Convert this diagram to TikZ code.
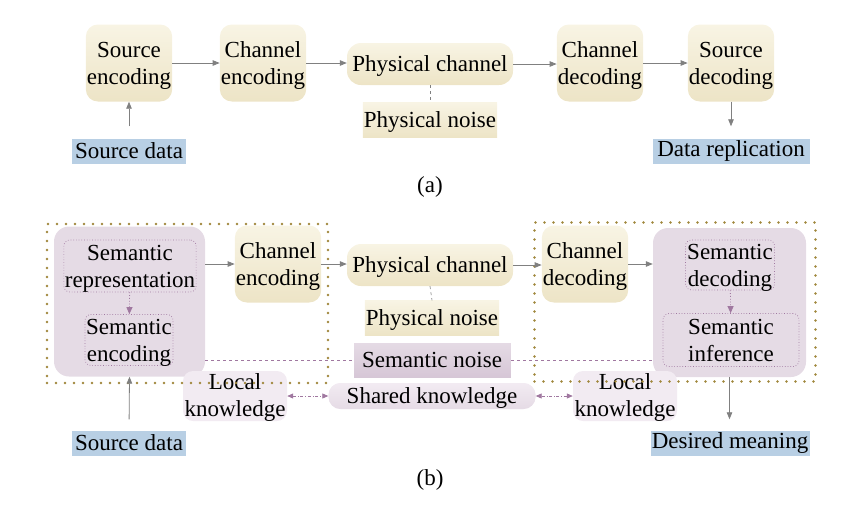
\documentclass[tikz,border=0pt]{standalone}
\usepackage{fontspec}
\setmainfont{Liberation Serif}
\usepackage{xcolor}
\usetikzlibrary{arrows.meta,positioning}
\definecolor{creamtop}{RGB}{248,244,228}
\definecolor{creambot}{RGB}{237,228,198}
\definecolor{tagblue}{RGB}{184,207,228}
\definecolor{mauve}{RGB}{229,219,229}
\definecolor{mauvedark}{RGB}{214,198,214}
\definecolor{mauveline}{RGB}{160,120,160}
\definecolor{knowfill}{RGB}{242,235,242}
\definecolor{framegold}{RGB}{160,135,60}
\definecolor{arrowgray}{RGB}{128,128,128}

\tikzset{
  procbox/.style={top color=creamtop, bottom color=creambot, draw=none,
    rounded corners=12pt, align=center, inner sep=1pt, text depth=0pt,
    minimum width=86pt, minimum height=77pt},
  pillbox/.style={top color=creamtop, bottom color=creambot, draw=none,
    rounded corners=14pt, align=center, inner sep=1pt, text depth=0pt,
    minimum width=166pt, minimum height=42pt},
  noisebox/.style={top color=creamtop, bottom color=creambot, draw=none,
    inner sep=1pt, text depth=0pt, minimum width=134pt, minimum height=35pt},
  datatag/.style={fill=tagblue, inner sep=1pt, minimum height=25pt},
  semgroup/.style={fill=mauve, rounded corners=15pt, minimum width=151pt, minimum height=150pt},
  subbox/.style={draw=mauveline, dotted, line width=0.7pt, rounded corners=6pt,
    align=center, inner sep=1pt, text depth=0pt},
  knowbox/.style={fill=knowfill, rounded corners=10pt, align=center, inner sep=1pt,
    text depth=1pt},
  framebox/.style={draw=framegold, line width=2.6pt, line cap=round,
    dash pattern=on 0pt off 9pt, minimum width=281pt, minimum height=159pt},
  flow/.style={draw=arrowgray, line width=0.8pt, -{Triangle[length=7pt,width=5.5pt]}},
  semflow/.style={draw=mauveline, dotted, line width=0.8pt,
    -{Triangle[length=7pt,width=6pt]}},
  noiselink/.style={draw=arrowgray, dashed, line width=0.6pt},
  semlink/.style={draw=mauveline, dashed, line width=0.6pt},
  knowlink/.style={draw=mauveline, dash dot, line width=0.8pt,
    {Triangle[length=6pt,width=5pt]}-{Triangle[length=6pt,width=5pt]}},
}

\begin{document}
\begin{tikzpicture}[x=1pt,y=-1pt,font=\fontsize{23}{27}\selectfont]
\useasboundingbox (0,0) rectangle (846,528);

% (a) classical chain
\node[procbox] (srcenc) at (129,63) {Source\\encoding};
\node[procbox] (chenc) at (263,63) {Channel\\encoding};
\node[pillbox] (phych) at (430,64) {Physical channel};
\node[procbox] (chdec) at (600,63) {Channel\\decoding};
\node[procbox] (srcdec) at (731,63) {Source\\decoding};
\node[noisebox] (phynoise) at (430,120) {Physical noise};
\node[datatag, minimum width=114pt] (srcdata) at (129,151) {Source data};
\node[datatag, minimum width=157pt] (datarep) at (731,151) {Data replication};
\node (lbla) at (430,187) {(a)};

\foreach \a/\b in {srcenc/chenc, chenc/phych, phych/chdec, chdec/srcdec}
  \draw[flow] (\a.east) -- (\a.east -| \b.west);
\draw[noiselink] (phych.south) -- (phynoise.north);
\draw[flow, shorten <=12pt] (srcdata.north) -- (srcenc.south);
\draw[flow, shorten >=12pt] (srcdec.south) -- (datarep.north);

% (b) semantic chain
\node[semgroup] (semtx) at (129.5,301.5) {};
\node[subbox, minimum width=132pt, minimum height=52pt] (semrep) at (130,266) {Semantic\\representation};
\node[subbox, minimum width=88pt, minimum height=51pt] (semenc) at (129,340) {Semantic\\encoding};
\node[procbox] (chencb) at (278,264) {Channel\\encoding};
\node[pillbox] (phychb) at (430,265) {Physical channel};
\node[noisebox] (phynoiseb) at (432,318) {Physical noise};
\node[top color=mauve, bottom color=mauvedark, draw=white, inner sep=1pt, text depth=1pt,
  minimum width=158pt, minimum height=36pt] (semnoise) at (432,360) {Semantic noise};
\node[procbox] (chdecb) at (585,264) {Channel\\decoding};
\node[semgroup, minimum width=153pt, minimum height=149pt] (semrx) at (729.5,302.5) {};
\node[subbox, minimum width=89pt, minimum height=50pt] (semdec) at (730,265) {Semantic\\decoding};
\node[subbox, minimum width=136pt, minimum height=53pt] (seminf) at (731,340) {Semantic\\inference};

\node[knowbox, minimum width=104pt, minimum height=50pt] (localtx) at (235,396) {Local\\knowledge};
\node[knowbox, rounded corners=12pt, minimum width=207pt, minimum height=26pt,
  top color=knowfill, bottom color=mauve] (shared) at (432,396) {Shared knowledge};
\node[knowbox, minimum width=104pt, minimum height=50pt] (localrx) at (625,396) {Local\\knowledge};

\node[datatag, minimum width=114pt] (srcdatab) at (129,443) {Source data};
\node[datatag, minimum width=159pt] (desired) at (730,443) {Desired meaning};
\node (lblb) at (430,480) {(b)};

\node[framebox] (txframe) at (187.5,303.5) {};
\node[framebox] (rxframe) at (675,302) {};

\draw[semflow] (semrep) -- (semenc);
\draw[semflow] (semdec) -- (seminf);
\draw[flow] (semtx.east |- chencb.west) -- (chencb.west);
\draw[flow] (chencb.east) -- (chencb.east -| phychb.west);
\draw[flow] (phychb.east) -- (phychb.east -| chdecb.west);
\draw[flow] (chdecb.east) -- (chdecb.east -| semrx.west);
\draw[noiselink] (phychb.south) -- (phynoiseb.north);
\draw[semlink] (semtx.east |- semnoise.west) -- (semnoise.west);
\draw[semlink] (semnoise.east) -- (semnoise.east -| semrx.west);
\draw[knowlink] (localtx) -- (shared);
\draw[knowlink] (shared) -- (localrx);
\draw[flow, shorten <=11pt] (srcdatab.north) -- (semtx.south);
\draw[flow, shorten >=11pt] (semrx.south) -- (semrx.south |- desired.north);
\end{tikzpicture}
\end{document}
